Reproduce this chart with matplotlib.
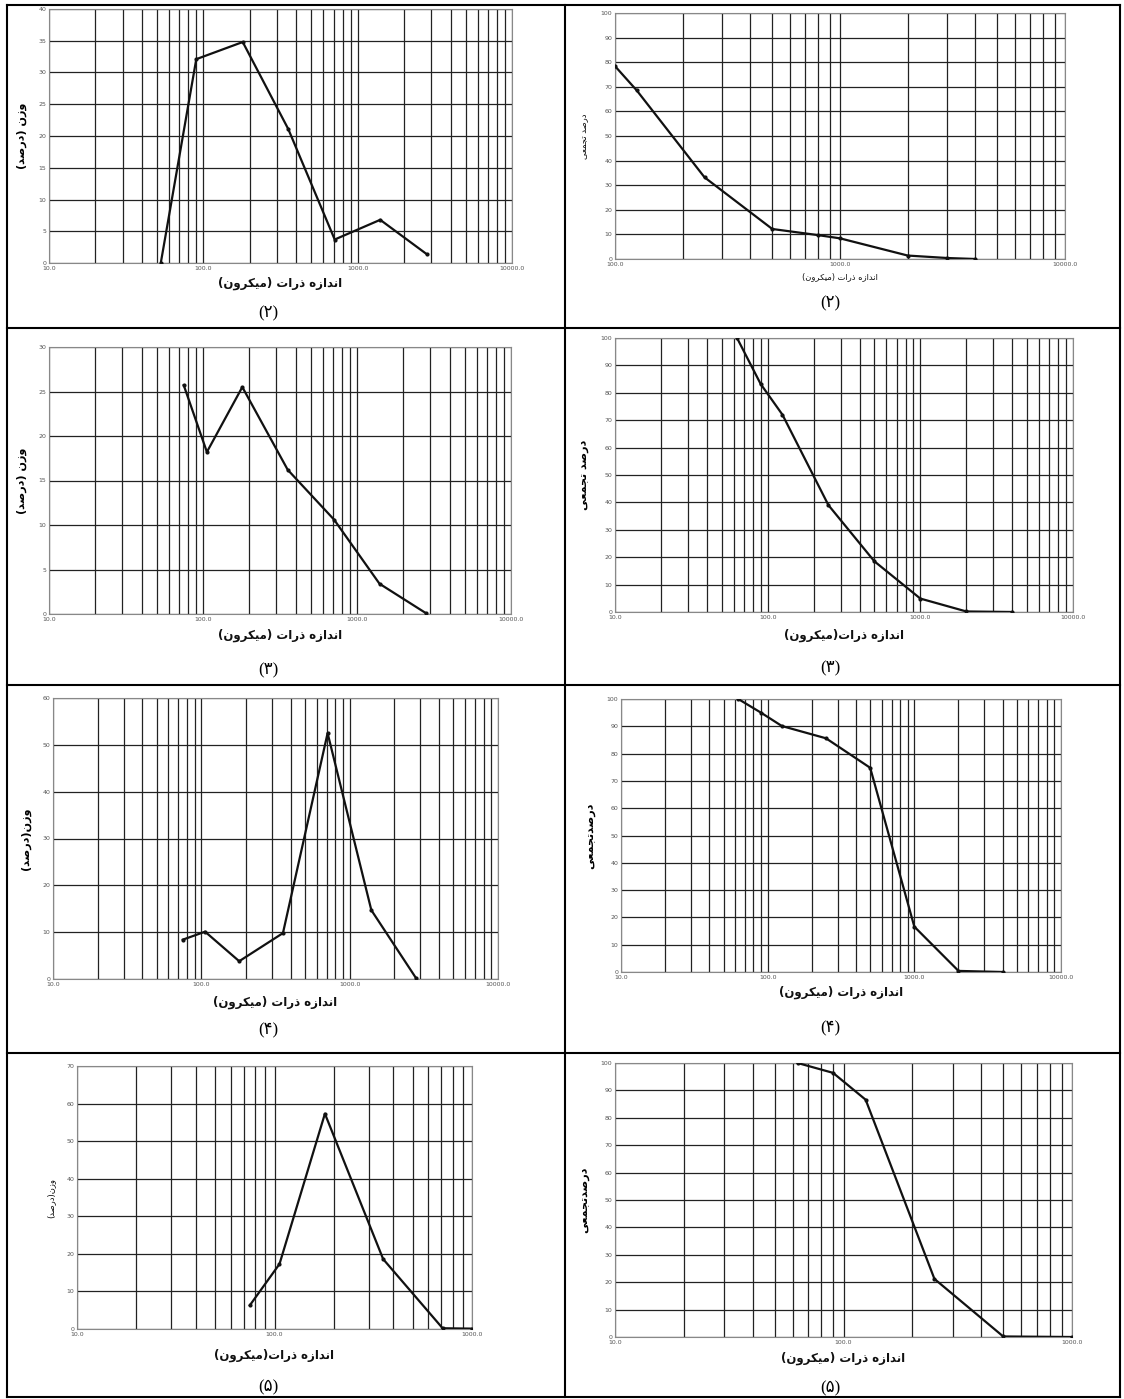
import numpy as np
import matplotlib
matplotlib.use('Agg')
import matplotlib.pyplot as plt
from matplotlib.lines import Line2D
from matplotlib.ticker import FixedLocator, LogLocator, NullFormatter, FuncFormatter

# ---- data ----
size2a = [53, 90, 180, 355, 710, 1400, 2800]
w2a = [0.0, 32.1, 34.8, 21.1, 3.7, 6.8, 1.4]
size2b = [100, 125, 250, 500, 800, 1000, 2000, 3000, 4000]
c2b = [78.4, 68.5, 33.2, 12.2, 9.7, 8.4, 1.4, 0.4, 0.0]

size3a = [75, 106, 180, 355, 710, 1400, 2800]
w3a = [25.7, 18.2, 25.5, 16.2, 10.6, 3.4, 0.1]
size3b = [63, 90, 125, 250, 500, 1000, 2000, 4000]
c3b = [100.0, 83.2, 72.0, 39.0, 18.5, 4.9, 0.2, 0.0]

size4a = [75, 106, 180, 355, 710, 1400, 2800]
w4a = [8.4, 10.1, 3.8, 9.8, 52.5, 14.7, 0.2]
size4b = [63, 90, 125, 250, 500, 1000, 2000, 4000]
c4b = [100.0, 95.0, 90.1, 85.6, 74.8, 16.6, 0.4, 0.0]

size5a = [75, 106, 180, 355, 710, 1000]
w5a = [6.3, 17.3, 57.3, 18.6, 0.2, 0.1]
size5b = [63, 90, 125, 250, 500, 1000]
c5b = [100.0, 96.4, 86.6, 21.2, 0.2, 0.0]

XLAB = 'اندازه ذرات (میکرون)'
XLAB2 = 'اندازه ذرات(میکرون)'
WLAB = 'وزن (درصد)'
WLAB2 = 'وزن(درصد)'
CLAB = 'درصد تجمعی'
CLAB2 = 'درصدتجمعی'
captions = ['(۲)', '(۲)', '(۳)', '(۳)', '(۴)', '(۴)', '(۵)', '(۵)']

# ---- minimal persian shaping (matplotlib has no bidi/shaping) ----
# isolated, final, initial, medial  (None -> right-joining only)
FORMS = {
    'ا': ('\uFE8D', '\uFE8E', None, None),
    'د': ('\uFEA9', '\uFEAA', None, None),
    'ذ': ('\uFEAB', '\uFEAC', None, None),
    'ر': ('\uFEAD', '\uFEAE', None, None),
    'ز': ('\uFEAF', '\uFEB0', None, None),
    'و': ('\uFEED', '\uFEEE', None, None),
    'ت': ('\uFE95', '\uFE96', '\uFE97', '\uFE98'),
    'ج': ('\uFE9D', '\uFE9E', '\uFE9F', '\uFEA0'),
    'ص': ('\uFEB9', '\uFEBA', '\uFEBB', '\uFEBC'),
    'ع': ('\uFEC9', '\uFECA', '\uFECB', '\uFECC'),
    'ک': ('\uFED9', '\uFEDA', '\uFEDB', '\uFEDC'),
    'م': ('\uFEE1', '\uFEE2', '\uFEE3', '\uFEE4'),
    'ن': ('\uFEE5', '\uFEE6', '\uFEE7', '\uFEE8'),
    'ه': ('\uFEE9', '\uFEEA', '\uFEEB', '\uFEEC'),
    'ی': ('\uFEEF', '\uFEF0', '\uFEF3', '\uFEF4'),
}
MIRROR = {'(': ')', ')': '('}


def fa(s):
    out = []
    for i, ch in enumerate(s):
        if ch not in FORMS:
            out.append(MIRROR.get(ch, ch))
            continue
        prev = s[i - 1] if i > 0 else ''
        nxt = s[i + 1] if i + 1 < len(s) else ''
        f = FORMS[ch]
        join_prev = prev in FORMS and FORMS[prev][2] is not None
        join_next = f[2] is not None and nxt in FORMS
        if join_prev and join_next:
            out.append(f[3])
        elif join_prev:
            out.append(f[1])
        elif join_next:
            out.append(f[2])
        else:
            out.append(f[0])
    return ''.join(out[::-1])


W, H = 1124, 1399
fig = plt.figure(figsize=(W / 100, H / 100), dpi=100)
fig.patch.set_facecolor('white')

# panel boxes in pixels: x0, x1, ytop, ybottom
boxes = [
    (49, 512, 9, 263), (615, 1065, 13, 259),
    (49, 511, 347, 614), (615, 1073, 338, 612),
    (53, 498, 698, 979), (621, 1061, 699, 972),
    (77, 472, 1066, 1329), (615, 1072, 1063, 1337),
]
xlab_y = [283, 277, 635, 635, 1002, 992, 1355, 1358]
cap_y = [313, 303, 670, 668, 1030, 1028, 1387, 1388]
small_y = [False, True, False, False, False, False, True, False]
small_x = [False, True, False, False, False, False, False, False]

panels = [
    (size2a, w2a, (10, 10000), 40, 5, WLAB, XLAB),
    (size2b, c2b, (100, 10000), 100, 10, CLAB, XLAB),
    (size3a, w3a, (10, 10000), 30, 5, WLAB, XLAB),
    (size3b, c3b, (10, 10000), 100, 10, CLAB, XLAB2),
    (size4a, w4a, (10, 10000), 60, 10, WLAB2, XLAB),
    (size4b, c4b, (10, 10000), 100, 10, CLAB2, XLAB),
    (size5a, w5a, (10, 1000), 70, 10, WLAB2, XLAB2),
    (size5b, c5b, (10, 1000), 100, 10, CLAB2, XLAB),
]

for k, (xs, ys, xl, ymax, ystep, ylab, xlab) in enumerate(panels):
    x0, x1, yt, yb = boxes[k]
    ax = fig.add_axes([x0 / W, 1 - yb / H, (x1 - x0) / W, (yb - yt) / H])
    ax.set_xscale('log')
    ax.set_xlim(xl)
    ax.set_ylim(0, ymax)
    ax.plot(xs, ys, color='#111111', lw=1.6, marker='o', ms=2, zorder=3)
    ax.xaxis.set_major_locator(LogLocator(base=10))
    ax.xaxis.set_minor_locator(LogLocator(base=10, subs=np.arange(2, 10)))
    ax.xaxis.set_minor_formatter(NullFormatter())
    ax.xaxis.set_major_formatter(FuncFormatter(lambda v, p: '%.1f' % v))
    ax.yaxis.set_major_locator(FixedLocator(np.arange(0, ymax + 1, ystep)))
    ax.grid(True, which='both', axis='x', color='#222222', lw=0.9)
    ax.grid(True, which='major', axis='y', color='#222222', lw=0.9)
    ax.set_axisbelow(True)
    ax.tick_params(which='both', length=0, labelsize=4.5, labelcolor='#555555', pad=2)
    for sp in ax.spines.values():
        sp.set_color('#888888')
        sp.set_linewidth(0.8)
    sy = small_y[k]
    ax.set_ylabel(fa(ylab), family='DejaVu Sans', weight='normal' if sy else 'bold',
                  fontsize=6 if sy else 8, labelpad=8)
    sx = small_x[k]
    cx = (x0 + x1) / 2 / W
    fig.text(cx, 1 - xlab_y[k] / H, fa(xlab), family='DejaVu Sans',
             weight='normal' if sx else 'bold', fontsize=6 if sx else 8.5,
             ha='center', va='center', color='#111111')
    capx = 268 if k % 2 == 0 else 830
    fig.text(capx / W, 1 - cap_y[k] / H, captions[k], family=['Liberation Serif', 'DejaVu Sans'],
             fontsize=12, ha='center', va='center')

# table borders
def hline(y, xa=7, xb=1120):
    fig.add_artist(Line2D([xa / W, xb / W], [1 - y / H, 1 - y / H], color='black', lw=1.5))


def vline(x, ya=5, yb=1397):
    fig.add_artist(Line2D([x / W, x / W], [1 - ya / H, 1 - yb / H], color='black', lw=1.5))


for y in [5, 328, 685, 1053, 1397]:
    hline(y)
for x in [7, 565, 1120]:
    vline(x)

fig.savefig('out.png', dpi=100)
